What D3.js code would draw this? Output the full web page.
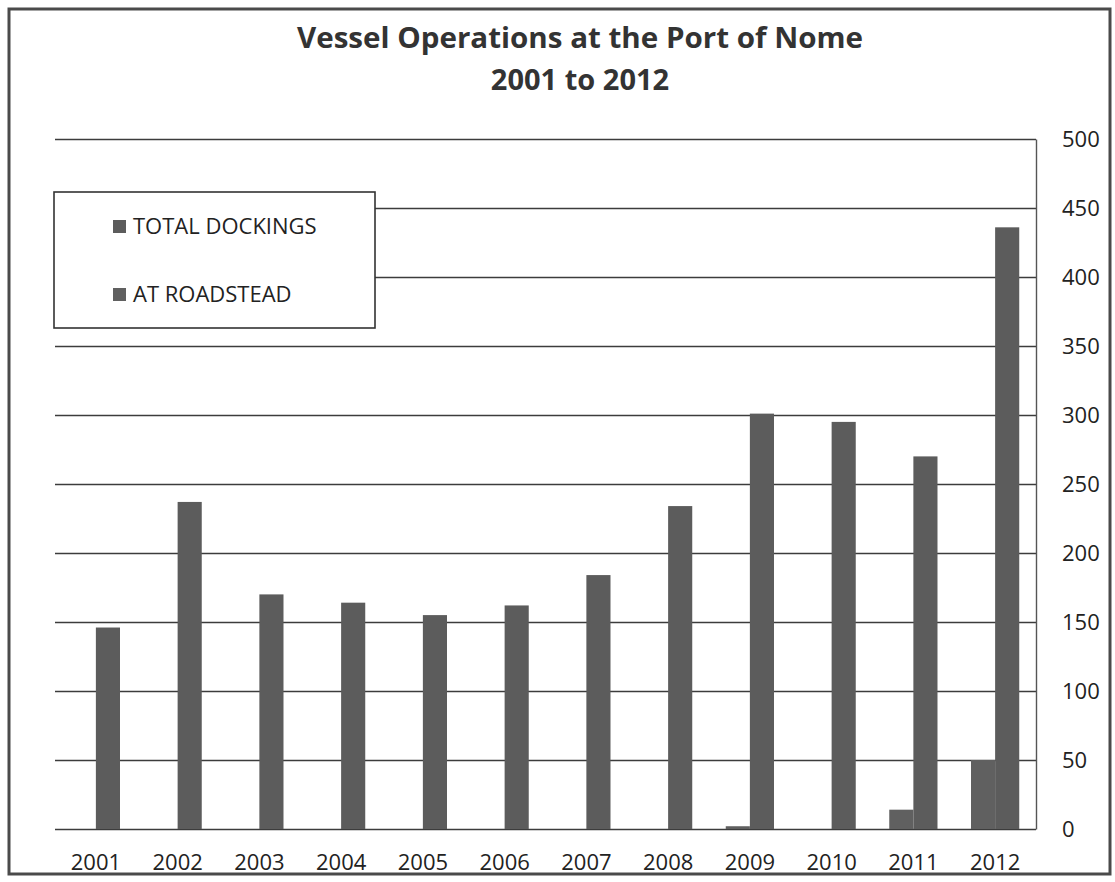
<!DOCTYPE html>
<html>
<head>
<meta charset="utf-8">
<script src="https://cdn.jsdelivr.net/npm/d3@7"></script>
<style>
html,body{margin:0;padding:0;background:#fff;}
svg text{font-family:"Open Sans",sans-serif;}
</style>
</head>
<body>
<svg id="chart" width="1115" height="882"></svg>
<script>
const years = ["2001","2002","2003","2004","2005","2006","2007","2008","2009","2010","2011","2012"];
const totalDockings = [146, 237, 170, 164, 155, 162, 184, 234, 301, 295, 270, 436];
const atRoadstead = [0, 0, 0, 0, 0, 0, 0, 0, 2, 0, 14, 50];
const yTicks = [0, 50, 100, 150, 200, 250, 300, 350, 400, 450, 500];
const seriesNames = ["TOTAL DOCKINGS", "AT ROADSTEAD"];
const titleLines = ["Vessel Operations at the Port of Nome", "2001 to 2012"];

(function(){
const svg = d3.select("#chart");
const pLeft = 55, pRight = 1036, pTop = 139, pBottom = 829;

const x0 = d3.scaleBand().domain(years).range([pLeft, pRight]).paddingInner(0.41).paddingOuter(0.205);
const x1 = d3.scaleBand().domain(["road", "total"]).range([0, x0.bandwidth()]);
const y = d3.scaleLinear().domain([0, 500]).range([pBottom, pTop]);

// outer frame
svg.append("rect").attr("x", 9).attr("y", 9).attr("width", 1101).attr("height", 865)
  .attr("fill", "#fff").attr("stroke", "#4a4a4a").attr("stroke-width", 3);

// title
svg.append("text").attr("x", 580).attr("y", 48).attr("text-anchor", "middle")
  .attr("font-size", 29).attr("font-weight", 700).attr("fill", "#333")
  .attr("textLength", 566).attr("lengthAdjust", "spacingAndGlyphs").text(titleLines[0]);
svg.append("text").attr("x", 580).attr("y", 90).attr("text-anchor", "middle")
  .attr("font-size", 29).attr("font-weight", 700).attr("fill", "#333").text(titleLines[1]);

// gridlines
const grid = svg.append("g").attr("transform", `translate(${pLeft},0)`)
  .call(d3.axisLeft(y).tickValues(yTicks).tickSize(-(pRight - pLeft)).tickFormat(""));
grid.select(".domain").remove();
grid.selectAll("line").attr("stroke", "#3c3c3c").attr("stroke-width", 1.4);

// right axis
const ax = svg.append("g").attr("transform", `translate(${pRight},0)`)
  .call(d3.axisRight(y).tickValues(yTicks).tickSize(0).tickPadding(26));
ax.select(".domain").attr("stroke", "#555").attr("stroke-width", 1.4);
ax.selectAll("text").attr("font-size", 22).attr("fill", "#222").attr("dy", "0.36em");

// bars
const groups = svg.append("g").selectAll("g").data(years).join("g")
  .attr("transform", d => `translate(${x0(d)},0)`);
groups.append("rect")
  .attr("x", x1("road")).attr("width", x1.bandwidth())
  .attr("y", (d, i) => y(atRoadstead[i])).attr("height", (d, i) => y(0) - y(atRoadstead[i]))
  .attr("fill", "#606060");
groups.append("rect")
  .attr("x", x1("total")).attr("width", x1.bandwidth())
  .attr("y", (d, i) => y(totalDockings[i])).attr("height", (d, i) => y(0) - y(totalDockings[i]))
  .attr("fill", "#5c5c5c");

// x labels
const xa = svg.append("g").attr("transform", `translate(0,${pBottom})`)
  .call(d3.axisBottom(x0).tickSize(0).tickPadding(25));
xa.select(".domain").remove();
xa.selectAll("text").attr("font-size", 22).attr("fill", "#222");

// legend
const lg = svg.append("g");
lg.append("rect").attr("x", 54).attr("y", 192).attr("width", 321).attr("height", 136)
  .attr("fill", "#fff").attr("stroke", "#333").attr("stroke-width", 1.6);
const legendColors = ["#5c5c5c", "#606060"];
seriesNames.forEach((s, i) => {
  const yy = 226 + i * 68;
  lg.append("rect").attr("x", 113).attr("y", yy - 6).attr("width", 13).attr("height", 13).attr("fill", legendColors[i]);
  lg.append("text").attr("x", 133).attr("y", yy).attr("dy", "0.36em")
    .attr("font-size", 22).attr("fill", "#222").text(s);
});
})();
</script>
</body>
</html>
